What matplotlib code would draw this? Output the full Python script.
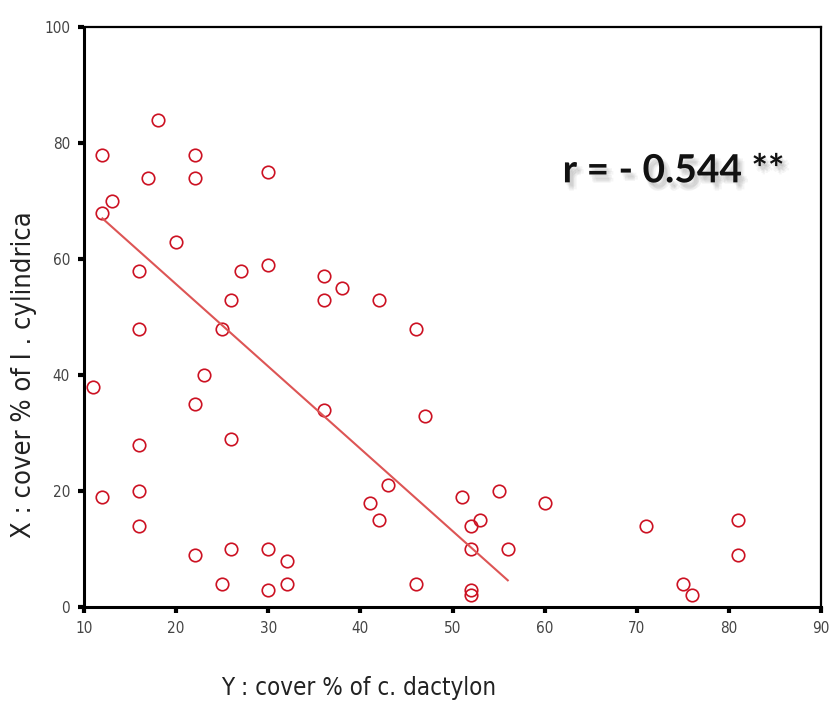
import matplotlib
matplotlib.use("Agg")
import matplotlib.pyplot as plt
import matplotlib.patheffects as pe
from matplotlib import font_manager as fm

# Data
dactylon = [18, 12, 22, 17, 22, 30, 13, 12, 20, 16, 27, 30, 36, 36, 38, 42, 26,
            16, 25, 46, 23, 11, 22, 36, 26, 47, 16, 43, 16, 12, 41, 42, 51, 55,
            60, 53, 52, 16, 71, 81, 22, 26, 30, 32, 52, 56, 81, 25, 30, 32, 46,
            52, 52, 75, 76]
cylindrica = [84, 78, 78, 74, 74, 75, 70, 68, 63, 58, 58, 59, 57, 53, 55, 53, 53,
              48, 48, 48, 40, 38, 35, 34, 29, 33, 28, 21, 20, 19, 18, 15, 19, 20,
              18, 15, 14, 14, 14, 15, 9, 10, 10, 8, 10, 10, 9, 4, 3, 4, 4,
              3, 2, 4, 2]
fit_x = [12, 56]
fit_y = [67, 4.6]
x_ticks = [10, 20, 30, 40, 50, 60, 70, 80, 90]
y_ticks = [0, 20, 40, 60, 80, 100]
r_label = "r = - 0.544 **"
x_label = "Y : cover % of c. dactylon"
y_label = "X : cover % of I . cylindrica"

names = {f.name for f in fm.fontManager.ttflist}
if 'Liberation Sans Narrow' in names:
    narrow_fp = dict(family='Liberation Sans Narrow')
else:
    narrow_fp = dict(family='DejaVu Sans', stretch='condensed')

fig = plt.figure(figsize=(8.34, 7.06), dpi=100)
ax = fig.add_axes([84/834, 1-607/706, (821-84)/834, (607-27)/706])

ax.plot(dactylon, cylindrica, linestyle='none', marker='o', markersize=9,
        markerfacecolor='none', markeredgecolor='#cc1122', markeredgewidth=1.2)
ax.plot(fit_x, fit_y, color='#dd5555', linewidth=1.5)

ax.set_xlim(10, 90)
ax.set_ylim(0, 100)
ax.set_xticks(x_ticks)
ax.set_yticks(y_ticks)
ax.set_xticklabels([str(t) for t in x_ticks], fontsize=11, color='#444444', **narrow_fp)
ax.set_yticklabels([str(t) for t in y_ticks], fontsize=11, color='#444444', **narrow_fp)
ax.tick_params(direction='out', length=4, width=3, color='black', pad=6)

for side in ['left', 'bottom']:
    ax.spines[side].set_linewidth(2.2)
for side in ['top', 'right']:
    ax.spines[side].set_linewidth(1.6)
for s in ax.spines.values():
    s.set_color('black')

shadow = [pe.SimplePatchShadow(offset=(dx, dy), shadow_rgbFace='#777777', alpha=0.07)
          for dx, dy in [(1, -2), (2, -3), (3, -4), (2, -5), (4, -3), (3, -6), (5, -5)]]
ax.text(0.8, 0.752, r_label, transform=ax.transAxes, ha='center', va='center',
        fontsize=28, fontweight='bold', family=['Lato', 'DejaVu Sans'], color='#111111',
        path_effects=shadow + [pe.Normal()])

fig.text(359/834, 1-688/706, x_label, ha='center', va='center', fontsize=17.3,
         color='#222222', **narrow_fp)
fig.text(24/834, 1-375/706, y_label, ha='center', va='center', rotation=90,
         fontsize=19.5, color='#222222', **narrow_fp)

fig.savefig('out.png', dpi=100)
